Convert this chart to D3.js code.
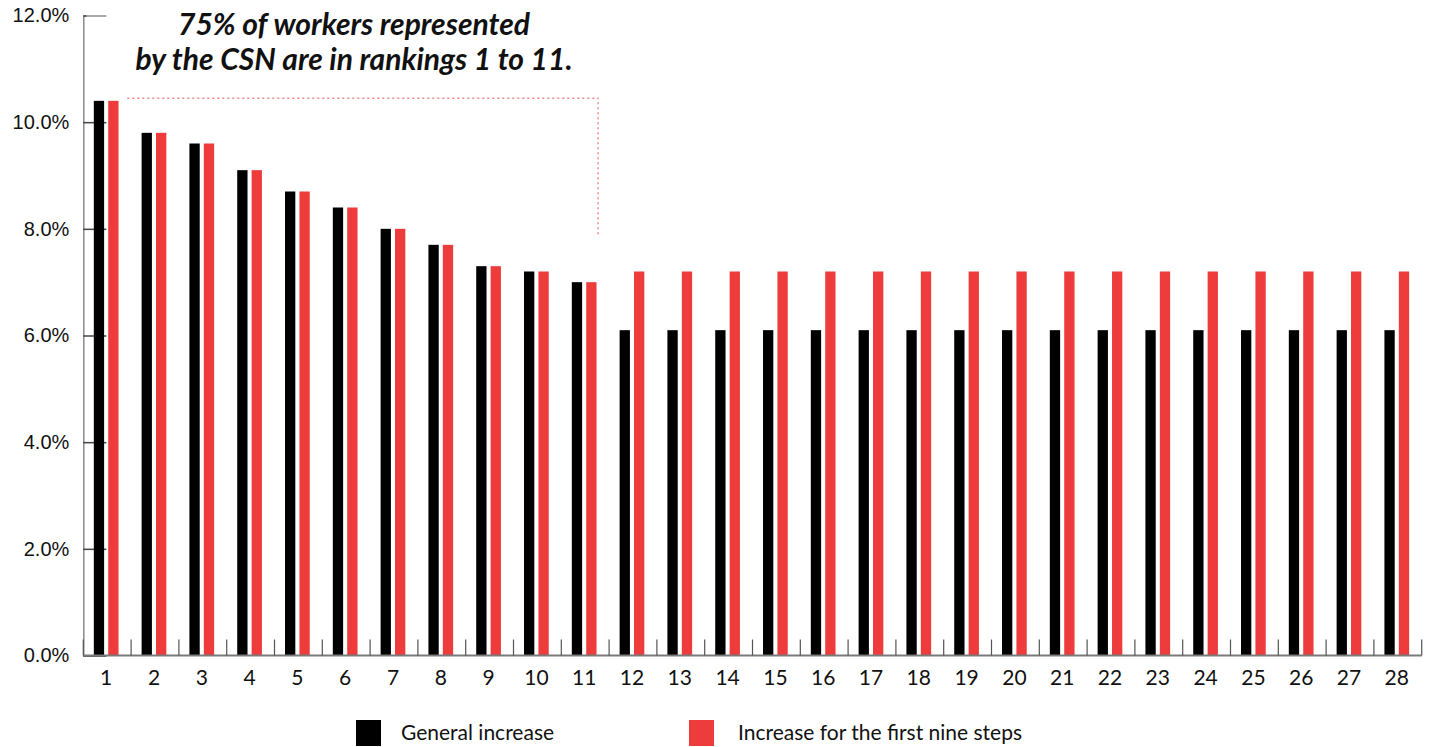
<!DOCTYPE html>
<html>
<head>
<meta charset="utf-8">
<script src="https://cdn.jsdelivr.net/npm/d3@7"></script>
<style>
  body { margin: 0; background: #fff; }
  svg { display: block; font-family: 'Lato', 'Noto Sans', sans-serif; }
</style>
</head>
<body>
<svg id="chart"></svg>
<script>
// Data
const rankings = d3.range(1, 29).map(String);
const generalIncrease = [10.4, 9.8, 9.6, 9.1, 8.7, 8.4, 8.0, 7.7, 7.3, 7.2, 7.0,
  6.1, 6.1, 6.1, 6.1, 6.1, 6.1, 6.1, 6.1, 6.1, 6.1, 6.1, 6.1, 6.1, 6.1, 6.1, 6.1, 6.1];
const firstStepsIncrease = [10.4, 9.8, 9.6, 9.1, 8.7, 8.4, 8.0, 7.7, 7.3, 7.2, 7.0,
  7.2, 7.2, 7.2, 7.2, 7.2, 7.2, 7.2, 7.2, 7.2, 7.2, 7.2, 7.2, 7.2, 7.2, 7.2, 7.2, 7.2];
const seriesNames = ['General increase', 'Increase for the first nine steps'];
const yTicks = [0, 2, 4, 6, 8, 10, 12];
const titleLines = ['75% of workers represented', 'by the CSN are in rankings 1 to 11.'];
// annotation box: from ranking 1 to ranking 11, value span
const noteFrom = '1', noteTo = '11', noteTop = 10.45, noteBottom = 7.9;

const W = 1429, H = 747;
const margin = { top: 15.5, right: 7.3, bottom: 91.5, left: 83.3 };
const width = W - margin.left - margin.right;
const height = H - margin.top - margin.bottom;
const colors = ['#000000', '#ee3b3b'];

const svg = d3.select('#chart').attr('width', W).attr('height', H);
const g = svg.append('g').attr('transform', `translate(${margin.left},${margin.top})`);

const x0 = d3.scaleBand().domain(rankings).range([0, width]).padding(0);
const bw = x0.bandwidth();
const x1 = d3.scaleBand().domain(seriesNames)
  .range([0.22 * bw, 0.737 * bw]).paddingInner(0.285);
const y = d3.scaleLinear().domain([0, 12]).range([height, 0]);

// Y axis (ticks pointing inward, short one at the top)
const yAxis = g.append('g')
  .call(d3.axisLeft(y).tickValues(yTicks).tickSize(-23).tickPadding(0)
    .tickFormat(d => d.toFixed(1) + '%'));
yAxis.select('.domain').attr('stroke', '#8a8a8a').attr('stroke-width', 1.5);
yAxis.selectAll('.tick line').attr('stroke', '#444').attr('stroke-width', 1.5)
  .attr('x2', d => d === 12 ? 3 : 23);
yAxis.selectAll('.tick text')
  .attr('x', -14)
  .style('font-size', '20px')
  .style('fill', '#111')
  .attr('text-anchor', 'end');

// Bars
const data = rankings.map((r, i) => ({ r, vals: [generalIncrease[i], firstStepsIncrease[i]] }));
const groups = g.selectAll('.grp').data(data).enter().append('g')
  .attr('transform', d => `translate(${x0(d.r)},0)`);
groups.selectAll('rect')
  .data(d => d.vals.map((v, k) => ({ k, v })))
  .enter().append('rect')
  .attr('x', d => x1(seriesNames[d.k]))
  .attr('width', x1.bandwidth())
  .attr('y', d => y(d.v))
  .attr('height', d => height - y(d.v))
  .attr('fill', d => colors[d.k]);

// X axis: line with boundary ticks pointing up, labels centered
const xg = g.append('g').attr('transform', `translate(0,${height})`);
xg.append('line').attr('x1', 0).attr('x2', width).attr('y1', 0).attr('y2', 0)
  .attr('stroke', '#7a7a7a').attr('stroke-width', 2);
const bounds = rankings.map(r => x0(r)).concat([width]);
xg.selectAll('.bt').data(bounds).enter().append('line')
  .attr('x1', d => d).attr('x2', d => d).attr('y1', 0).attr('y2', -16)
  .attr('stroke', '#555').attr('stroke-width', 1.2);
xg.selectAll('.xl').data(rankings).enter().append('text')
  .attr('x', d => x0(d) + bw / 2 - 1)
  .attr('y', 29)
  .attr('text-anchor', 'middle')
  .style('font-size', '21px')
  .style('fill', '#111')
  .text(d => d);

// Dotted annotation bracket
const nx1 = x0(noteFrom) + 0.92 * bw;
const nx2 = x0(noteTo) + 0.77 * bw;
g.append('path')
  .attr('d', `M${nx1},${y(noteTop)}H${nx2}V${y(noteBottom)}`)
  .attr('fill', 'none')
  .attr('stroke', '#f08a8a')
  .attr('stroke-width', 1.5)
  .attr('stroke-dasharray', '2,3');

// Title annotation
svg.append('text')
  .attr('text-anchor', 'middle')
  .style('font-size', '30px')
  .style('font-weight', '700')
  .style('font-style', 'italic')
  .style('fill', '#111')
  .selectAll('tspan').data(titleLines).enter().append('tspan')
  .attr('x', 354)
  .attr('y', (d, i) => 35 + i * 35)
  .text(d => d);

// Legend
const legendX = [356, 689];
const lg = svg.selectAll('.lg').data(seriesNames).enter().append('g')
  .attr('transform', (d, i) => `translate(${legendX[i]},720)`);
lg.append('rect').attr('width', 25).attr('height', 26).attr('fill', (d, i) => colors[i]);
lg.append('text').attr('x', (d, i) => i ? 49 : 45).attr('y', 20)
  .style('font-size', '21px').style('fill', '#111')
  .text(d => d);
</script>
</body>
</html>
